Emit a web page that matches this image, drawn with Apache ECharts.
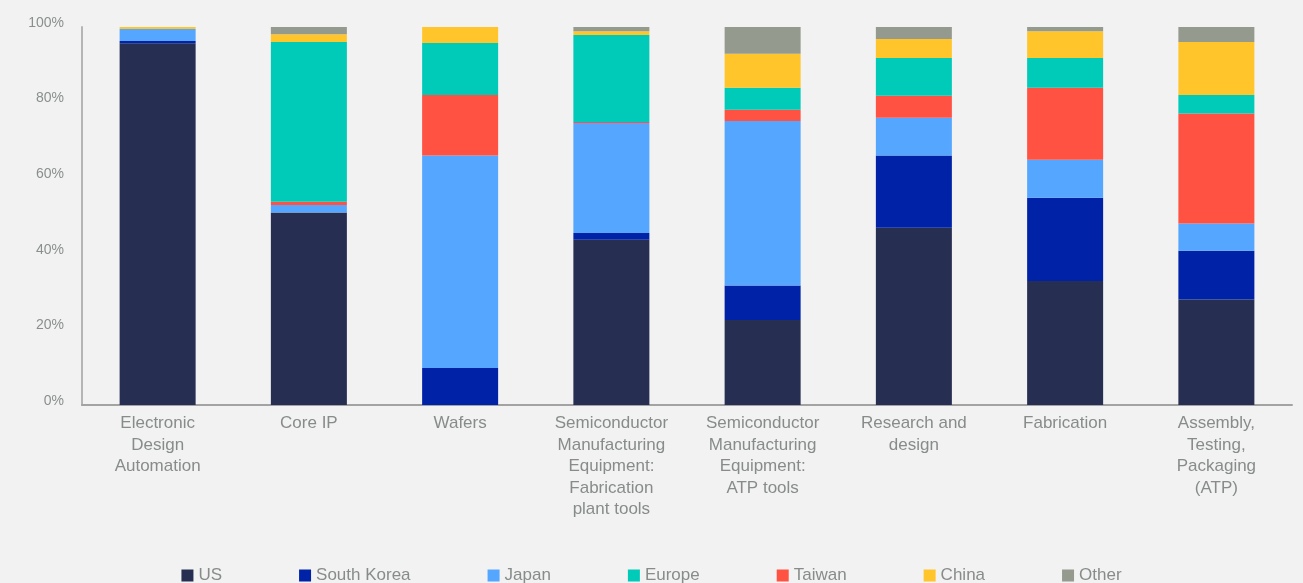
<!DOCTYPE html>
<html>
<head>
<meta charset="utf-8">
<script src="https://cdn.jsdelivr.net/npm/echarts@6/dist/echarts.min.js"></script>
<style>
html,body{margin:0;padding:0;background:#f1f2f1;}
#chart{width:1303px;height:583px;}
</style>
</head>
<body>
<div id="chart"></div>
<script>
const categories = [
  "Electronic\nDesign\nAutomation",
  "Core IP",
  "Wafers",
  "Semiconductor\nManufacturing\nEquipment:\nFabrication\nplant tools",
  "Semiconductor\nManufacturing\nEquipment:\nATP tools",
  "Research and\ndesign",
  "Fabrication",
  "Assembly,\nTesting,\nPackaging\n(ATP)"
];
const yTicks = [0, 20, 40, 60, 80, 100];
const US         = [95.7, 50.9,  0.0, 43.7, 22.5, 46.9, 32.8, 27.9];
const SouthKorea = [ 0.6,  0.0,  9.8,  1.8,  9.1, 19.1, 22.0, 12.9];
const Japan      = [ 3.2,  2.0, 56.2, 29.1, 43.5, 10.0, 10.1,  7.2];
const Taiwan     = [ 0.0,  0.9, 16.0,  0.3,  3.0,  5.8, 19.0, 29.1];
const Europe     = [ 0.0, 42.2, 13.8, 23.0,  5.8, 10.0,  7.9,  4.9];
const China      = [ 0.5,  2.1,  4.2,  1.0,  9.0,  5.0,  7.1, 14.0];
const Other      = [ 0.0,  1.9,  0.0,  1.1,  7.1,  3.2,  1.1,  4.0];

const seriesDefs = [
  {name: "US", data: US, color: "#262e52"},
  {name: "South Korea", data: SouthKorea, color: "#0022a6"},
  {name: "Japan", data: Japan, color: "#55a6ff"},
  {name: "Taiwan", data: Taiwan, color: "#ff5243"},
  {name: "Europe", data: Europe, color: "#00cab8"},
  {name: "China", data: China, color: "#ffc52b"},
  {name: "Other", data: Other, color: "#959a8f"}
];
const legendOrder = ["US", "South Korea", "Japan", "Europe", "Taiwan", "China", "Other"];

const FONT = "'Liberation Sans', Arial, sans-serif";
const chart = echarts.init(document.getElementById('chart'), null, {renderer: 'canvas'});
chart.setOption({
  backgroundColor: '#f1f2f1',
  animation: false,
  textStyle: {fontFamily: FONT},
  grid: {left: 82, right: 11, top: 27, bottom: 178, containLabel: false},
  legend: {
    data: legendOrder,
    left: 'center',
    top: 562,
    icon: 'rect',
    itemWidth: 12,
    itemHeight: 12,
    itemGap: 77,
    textStyle: {fontSize: 17, color: '#878c8a', fontFamily: FONT}
  },
  xAxis: {
    type: 'category',
    data: categories,
    axisLine: {show: true, lineStyle: {color: '#a3a3a3', width: 2}},
    axisTick: {show: false},
    axisLabel: {
      interval: 0,
      margin: 8,
      fontSize: 17,
      lineHeight: 21.5,
      color: '#878c8a',
      fontFamily: FONT,
      align: 'center'
    }
  },
  yAxis: {
    type: 'value',
    min: yTicks[0],
    max: yTicks[yTicks.length - 1],
    interval: yTicks[1] - yTicks[0],
    splitLine: {show: false},
    axisTick: {show: false},
    axisLine: {show: true, lineStyle: {color: '#b5b5b5', width: 2}},
    axisLabel: {
      formatter: '{value}%',
      fontSize: 14,
      color: '#8a8f8d',
      margin: 18,
      verticalAlign: 'bottom',
      lineHeight: 8,
      fontFamily: FONT
    }
  },
  series: seriesDefs.map(s => ({
    name: s.name,
    type: 'bar',
    stack: 'total',
    barWidth: 76,
    data: s.data,
    itemStyle: {color: s.color},
    emphasis: {disabled: true}
  }))
});
</script>
</body>
</html>
